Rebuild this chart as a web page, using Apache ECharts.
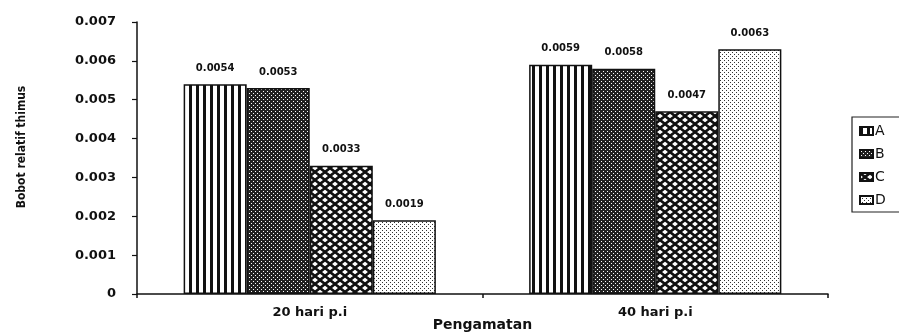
<!DOCTYPE html>
<html>
<head>
<meta charset="utf-8">
<script src="https://cdn.jsdelivr.net/npm/echarts@6/dist/echarts.min.js"></script>
<style>html,body{margin:0;padding:0;background:#fff;}#c{width:899px;height:333px;}</style>
</head>
<body>
<div id="c"></div>
<script>
// ---- data ----
const categories = ['20 hari p.i', '40 hari p.i'];
const seriesNames = ['A', 'B', 'C', 'D'];
const valuesA = [0.0054, 0.0059];
const valuesB = [0.0053, 0.0058];
const valuesC = [0.0033, 0.0047];
const valuesD = [0.0019, 0.0063];
const yTicks = [0, 0.001, 0.002, 0.003, 0.004, 0.005, 0.006, 0.007];

// ---- patterns ----
function tile(w, h, draw) {
  const c = document.createElement('canvas');
  c.width = w; c.height = h;
  const g = c.getContext('2d');
  g.fillStyle = '#fff'; g.fillRect(0, 0, w, h);
  draw(g, w, h);
  return { image: c, repeat: 'repeat' };
}
const patA = tile(7, 7, (g) => { g.fillStyle = '#111'; g.fillRect(0, 0, 3, 7); });
const patB = tile(4, 4, (g) => {
  g.fillStyle = '#222'; g.fillRect(0, 0, 4, 4);
  g.fillStyle = '#fff'; g.fillRect(1, 1, 1, 1); g.fillRect(3, 3, 1, 1);
});
const patC = tile(10, 8, (g, w, h) => {
  g.strokeStyle = '#111'; g.lineWidth = 2.6;
  g.beginPath();
  g.moveTo(-w, -h); g.lineTo(2 * w, 2 * h);
  g.moveTo(2 * w, -h); g.lineTo(-w, 2 * h);
  g.stroke();
  g.beginPath();
  g.moveTo(-w, 0); g.lineTo(w, 2 * h);
  g.moveTo(w, -h); g.lineTo(-w, h);
  g.moveTo(2 * w, 0); g.lineTo(0, 2 * h);
  g.moveTo(0, -h); g.lineTo(2 * w, h);
  g.stroke();
});
const patD = tile(4, 4, (g) => {
  g.fillStyle = '#333'; g.fillRect(0, 0, 1, 1); g.fillRect(2, 2, 1, 1);
});
const patterns = [patA, patB, patC, patD];
const allValues = [valuesA, valuesB, valuesC, valuesD];

const font = 'DejaVu Sans';
const chart = echarts.init(document.getElementById('c'), null, { renderer: 'canvas' });
chart.setOption({
  animation: false,
  backgroundColor: '#fff',
  grid: { left: 137, right: 71, top: 22, bottom: 39, containLabel: false, outerBoundsMode: 'none' },
  legend: {
    orient: 'vertical',
    left: 852, top: 117,
    padding: [7, 40, 5, 7],
    borderColor: '#222', borderWidth: 1.2,
    icon: 'rect',
    itemWidth: 13, itemHeight: 8, itemGap: 9,
    textStyle: { fontFamily: font, fontSize: 14, color: '#111', padding: [0, 0, 0, -3] },
    data: seriesNames
  },
  xAxis: {
    type: 'category',
    data: categories,
    name: 'Pengamatan',
    nameLocation: 'middle',
    nameGap: 24,
    nameMoveOverlap: false,
    nameTextStyle: { fontFamily: font, fontSize: 14, fontWeight: 'bold', color: '#111' },
    axisLine: { lineStyle: { color: '#111', width: 1.5 } },
    axisTick: { show: true, length: 4, lineStyle: { color: '#111', width: 1.5 } },
    axisLabel: { fontFamily: font, fontSize: 13, fontWeight: 'bold', color: '#111', margin: 12 }
  },
  yAxis: {
    type: 'value',
    min: yTicks[0], max: yTicks[yTicks.length - 1], interval: yTicks[1] - yTicks[0],
    name: 'Bobot relatif thimus',
    nameLocation: 'middle',
    nameGap: 109,
    nameMoveOverlap: false,
    nameRotate: 90,
    nameTextStyle: { fontFamily: 'DejaVu Sans Condensed', fontSize: 12, fontWeight: 'bold', color: '#111', padding: [0, 0, 0, 22] },
    splitLine: { show: false },
    axisLine: { show: true, lineStyle: { color: '#111', width: 1.5 } },
    axisTick: { show: true, length: 5, lineStyle: { color: '#111', width: 1.2 } },
    axisLabel: {
      fontFamily: font, fontSize: 13, fontWeight: 'bold', color: '#111', margin: 21,
      formatter: (v) => (v === 0 ? '0' : v.toFixed(3))
    }
  },
  series: seriesNames.map((n, i) => ({
    name: n,
    type: 'bar',
    data: allValues[i],
    barGap: '0%',
    barCategoryGap: '27%',
    itemStyle: { color: patterns[i], borderColor: '#111', borderWidth: 1.5 },
    label: {
      show: true, position: 'top', distance: 11,
      fontFamily: font, fontSize: 10, fontWeight: 'bold', color: '#111',
      formatter: (p) => p.value.toFixed(4)
    }
  }))
});
</script>
</body>
</html>
